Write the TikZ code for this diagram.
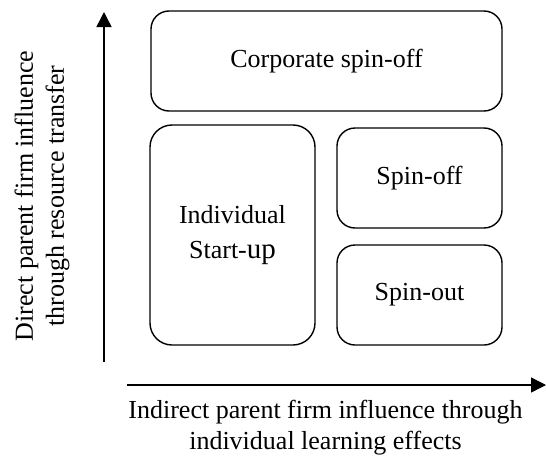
\documentclass[tikz,border=0pt]{standalone}
\usepackage{fontspec}
\setmainfont{Liberation Serif}
\usetikzlibrary{arrows.meta}
\begin{document}
\begin{tikzpicture}[x=1pt,y=-1pt,
  box/.style={draw=black,line width=1.4pt,rounded corners=18pt,inner sep=0pt,align=center,
    font=\fontsize{26}{35}\selectfont},
  axis/.style={line width=1.4pt,-{Triangle[length=15pt,width=15pt]}},
  lbl/.style={align=center,inner sep=0pt,font=\fontsize{26}{31}\selectfont}]
\useasboundingbox (0,0) rectangle (546,455);
\node[box,minimum width=351pt,minimum height=100pt] (corp) at (326.5,61) {Corporate spin-off};
\node[box,minimum width=165pt,minimum height=220pt,rounded corners=22pt] (indiv) at (232.5,235) {Individual\\Start-{\fontsize{29}{35}\selectfont up}};
\node[box,minimum width=165pt,minimum height=100pt] (soff) at (419.5,178) {Spin-off};
\node[box,minimum width=165pt,minimum height=100pt] (sout) at (419.5,295) {Spin-out};
\coordinate (yfrom) at (104,362);
\coordinate (yto) at (104,12);
\coordinate (xfrom) at (127,385);
\coordinate (xto) at (546,385);
\draw[axis] (yfrom) -- (yto);
\draw[axis] (xfrom) -- (xto);
\node[lbl,rotate=90] (ylab) at (42,196) {Direct parent firm influence\\through resource transfer};
\node[lbl] (xlab) at (325.5,428) {Indirect parent firm influence through\\individual learning effects};
\end{tikzpicture}
\end{document}
